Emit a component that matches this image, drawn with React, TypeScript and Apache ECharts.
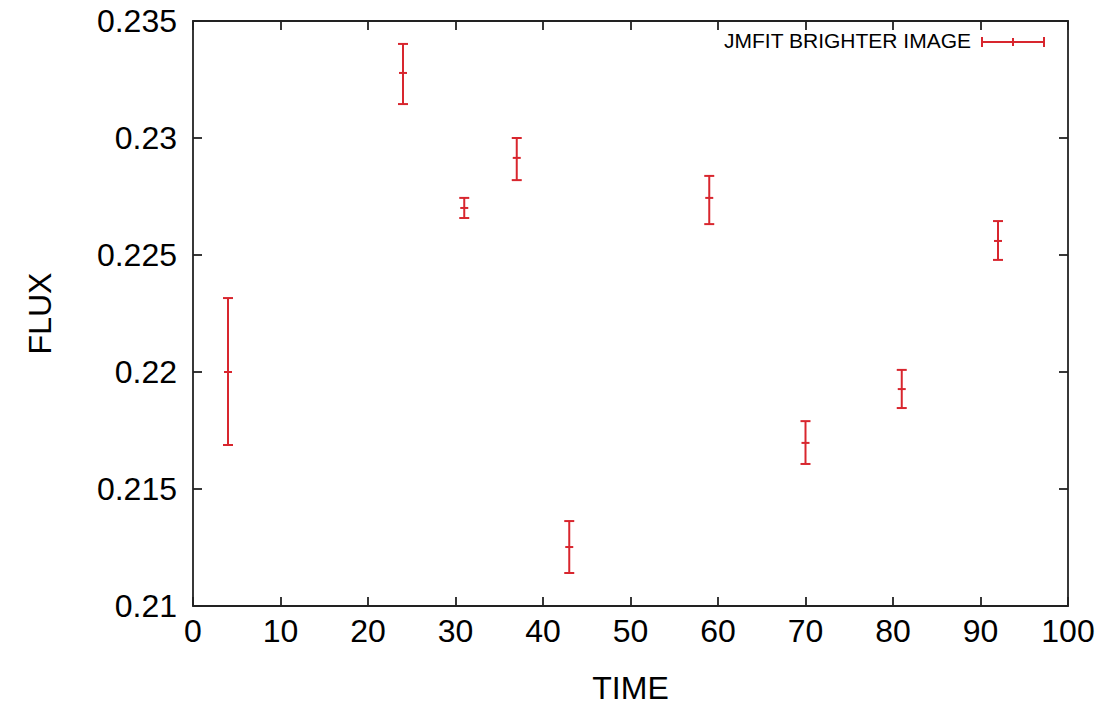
import React, { useEffect, useRef } from "react";
import * as echarts from "echarts";

const times = [4, 24, 31, 37, 43, 59, 70, 81, 92];
const flux = [0.2200, 0.23278, 0.22701, 0.22915, 0.21252, 0.22744, 0.21697, 0.21927, 0.2256];
const fluxLow = [0.21688, 0.23145, 0.22658, 0.2282, 0.21141, 0.22632, 0.21607, 0.21846, 0.22479];
const fluxHigh = [0.22316, 0.23402, 0.22744, 0.2300, 0.21363, 0.22838, 0.2179, 0.22009, 0.22645];
const seriesName = "JMFIT BRIGHTER IMAGE";
const xTicks = { min: 0, max: 100, interval: 10 };
const yTicks = { min: 0.21, max: 0.235, interval: 0.005 };

const RED = "#d8262e";
const FONT = "Liberation Sans, Arial, sans-serif";

export default function App() {
  const ref = useRef<HTMLDivElement>(null);
  useEffect(() => {
    if (!ref.current) return;
    const chart = echarts.init(ref.current, undefined, { renderer: "svg" });
    const data = times.map((t, i) => [t, flux[i], fluxLow[i], fluxHigh[i]]);
    const axisLine = { show: true, onZero: false, lineStyle: { color: "#222", width: 1.8 } };
    const tickIn = { show: true, inside: true, length: 9, lineStyle: { color: "#222", width: 1.8 } };
    const labelStyle = { color: "#000", fontSize: 32, fontFamily: FONT };
    chart.setOption({
      animation: false,
      backgroundColor: "#fff",
      grid: { left: 193, top: 21, right: 38, bottom: 104, containLabel: false },
      xAxis: [
        {
          type: "value", ...xTicks, position: "bottom",
          axisLine, axisTick: tickIn, splitLine: { show: false },
          axisLabel: { ...labelStyle, margin: 9 },
          name: "TIME", nameLocation: "middle", nameGap: 66,
          nameTextStyle: { ...labelStyle },
        },
        {
          type: "value", ...xTicks, position: "top",
          axisLine, axisTick: tickIn, splitLine: { show: false },
          axisLabel: { show: false },
        },
      ],
      yAxis: [
        {
          type: "value", ...yTicks, position: "left",
          axisLine, axisTick: tickIn, splitLine: { show: false },
          axisLabel: { ...labelStyle, margin: 16, formatter: (v: number) => String(+v.toFixed(3)) },
          name: "FLUX", nameLocation: "middle", nameGap: 137,
          nameTextStyle: { ...labelStyle },
        },
        {
          type: "value", ...yTicks, position: "right",
          axisLine, axisTick: tickIn, splitLine: { show: false },
          axisLabel: { show: false },
        },
      ],
      series: [
        {
          name: seriesName,
          type: "custom",
          xAxisIndex: 0,
          yAxisIndex: 0,
          data,
          renderItem: (params: any, api: any) => {
            const x = api.value(0);
            const c = api.coord([x, api.value(1)]);
            const lo = api.coord([x, api.value(2)]);
            const hi = api.coord([x, api.value(3)]);
            const cap = 5;
            const style = { stroke: RED, lineWidth: 2 };
            return {
              type: "group",
              children: [
                { type: "line", shape: { x1: lo[0], y1: lo[1], x2: hi[0], y2: hi[1] }, style },
                { type: "line", shape: { x1: lo[0] - cap, y1: lo[1], x2: lo[0] + cap, y2: lo[1] }, style },
                { type: "line", shape: { x1: hi[0] - cap, y1: hi[1], x2: hi[0] + cap, y2: hi[1] }, style },
                { type: "line", shape: { x1: c[0] - 4, y1: c[1], x2: c[0] + 4, y2: c[1] }, style },
              ],
            };
          },
        },
      ],
      graphic: [
        {
          type: "text", right: 1106 - 971, top: 30,
          style: { text: seriesName, fill: "#000", font: `21px ${FONT}`, textAlign: "right" },
        },
        { type: "line", shape: { x1: 982, y1: 42, x2: 1044, y2: 42 }, style: { stroke: RED, lineWidth: 2 } },
        { type: "line", shape: { x1: 982, y1: 37, x2: 982, y2: 47 }, style: { stroke: RED, lineWidth: 2 } },
        { type: "line", shape: { x1: 1044, y1: 37, x2: 1044, y2: 47 }, style: { stroke: RED, lineWidth: 2 } },
        { type: "line", shape: { x1: 1013, y1: 38, x2: 1013, y2: 46 }, style: { stroke: RED, lineWidth: 2 } },
      ],
    });
    return () => chart.dispose();
  }, []);
  return (
    <div
      ref={ref}
      style={{ position: "fixed", left: 0, top: 0, width: 1106, height: 710, background: "#fff" }}
    />
  );
}
